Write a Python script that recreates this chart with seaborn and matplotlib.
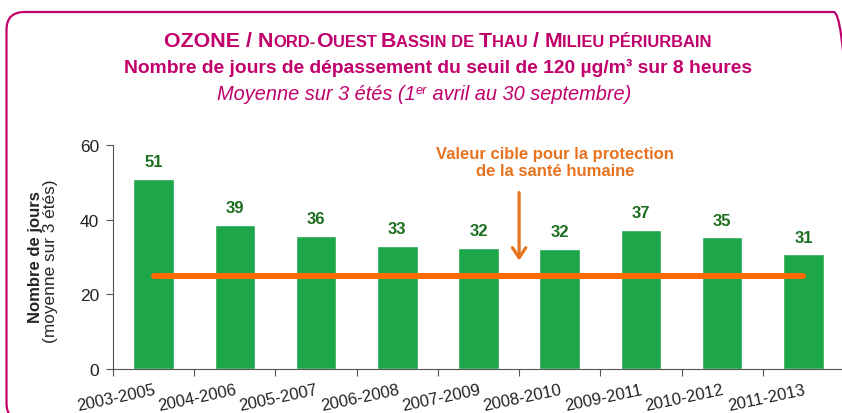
import matplotlib
matplotlib.use("Agg")
import matplotlib.pyplot as plt
import matplotlib.patches as mpatches
import matplotlib.transforms as mtrans
import seaborn as sns
import pandas as pd

# Data
periods = ["2003-2005", "2004-2006", "2005-2007", "2006-2008", "2007-2009",
           "2008-2010", "2009-2011", "2010-2012", "2011-2013"]
days = [51.0, 38.6, 35.7, 33.0, 32.4, 32.2, 37.3, 35.3, 30.7]
target_value = 25

MAGENTA = "#C2006B"
GREEN = "#1EA64A"
DARK_GREEN = "#1B6E1E"
ORANGE_LINE = "#FF6A00"
ORANGE_TEXT = "#E8731E"

sns.set_theme(style="white")
plt.rcParams["font.family"] = ["Liberation Sans", "DejaVu Sans"]

df = pd.DataFrame({"period": periods, "days": days})

fig = plt.figure(figsize=(8.42, 4.14), dpi=100)
ax = fig.add_axes([113 / 842, 44 / 414, 731 / 842, 224 / 414])

sns.barplot(data=df, x="period", y="days", color=GREEN, saturation=1,
            width=0.5, ax=ax)

ax.set_xlim(-0.5, len(periods) - 0.5)
ax.set_ylim(0, 60)
ax.set_yticks([0, 20, 40, 60])
ax.set_xlabel("")
ax.set_ylabel("")

# ticks between categories, labels under bars
ax.set_xticks([i - 0.5 for i in range(len(periods))])
ax.set_xticklabels([])
ax.set_xticks(range(len(periods)), minor=True)
ax.set_xticklabels(periods, minor=True, rotation=12, ha="right",
                   rotation_mode="anchor", fontsize=12, color="#222222")
ax.tick_params(axis="x", which="major", length=5, width=0.8, color="#555555",
               direction="out", bottom=True)
ax.tick_params(axis="x", which="minor", length=0, pad=9)
ax.tick_params(axis="y", length=5, width=0.8, color="#555555", direction="out",
               left=True, labelsize=12.5, labelcolor="#222222", pad=5)
for s in ["top", "right"]:
    ax.spines[s].set_visible(False)
for s in ["left", "bottom"]:
    ax.spines[s].set_color("#555555")
    ax.spines[s].set_linewidth(0.8)

# value labels
for i, v in enumerate(days):
    ax.text(i, v + 2.6, f"{round(v)}", ha="center", va="bottom",
            fontsize=12, fontweight="bold", color=DARK_GREEN)

# target line
ax.plot([0, len(periods) - 1], [target_value, target_value],
        color=ORANGE_LINE, lw=4.3, solid_capstyle="round", zorder=5)
ax.annotate("", xy=(4.5, 28.3), xytext=(4.5, 48),
            arrowprops=dict(arrowstyle="->,head_length=0.6,head_width=0.4",
                            color=ORANGE_TEXT, lw=2.3))
ax.text(4.94, 55.4, "Valeur cible pour la protection\nde la santé humaine",
        ha="center", va="center", fontsize=12, fontweight="bold",
        color=ORANGE_TEXT, linespacing=1.15)

# y label
fig.text(36 / 842, 1 - 257 / 414, "Nombre de jours", rotation=90,
         ha="center", va="center", fontsize=12, fontweight="bold")
fig.text(51 / 842, 1 - 261 / 414, "(moyenne sur 3 étés)", rotation=90,
         ha="center", va="center", fontsize=12.4)


def draw_segments(segments, x_px, y_px, **kw):
    # draw pieces of text side by side, centred on x_px (pixels from left)
    renderer = fig.canvas.get_renderer()
    tr = mtrans.IdentityTransform()
    arts = []
    for txt, size, dy in segments:
        t = fig.text(0, 0, txt, fontsize=size, transform=tr, va="baseline", **kw)
        arts.append((t, dy))
    widths = [t.get_window_extent(renderer).width for t, _ in arts]
    x = x_px - sum(widths) / 2
    for (t, dy), w in zip(arts, widths):
        t.set_position((x, 414 - y_px + dy))
        x += w


L, S = 15.4, 11.9
draw_segments([("OZONE / N", L, 0), ("ORD-", S, 0), ("O", L, 0), ("UEST ", S, 0),
               ("B", L, 0), ("ASSIN DE ", S, 0), ("T", L, 0), ("HAU ", S, 0),
               ("/ M", L, 0), ("ILIEU PÉRIURBAIN", S, 0)],
              438, 47, fontweight="bold", color=MAGENTA)
draw_segments([("Nombre de jours de dépassement du seuil de 120 µg/m³ sur 8 heures",
                13.9, 0)], 438, 73, fontweight="bold", color=MAGENTA)
draw_segments([("Moyenne sur 3 étés (1", 14.4, 0), ("er", 9.2, 6),
               (" avril au 30 septembre)", 14.4, 0)],
              424, 100, fontstyle="italic", color=MAGENTA)

# rounded frame
frame = mpatches.FancyBboxPatch((6.5, -8), 845, 409,
                                boxstyle="round,pad=0,rounding_size=18",
                                transform=mtrans.IdentityTransform(),
                                fill=False, edgecolor=MAGENTA, lw=1.6)
fig.add_artist(frame)

fig.savefig("out.png", dpi=100)
